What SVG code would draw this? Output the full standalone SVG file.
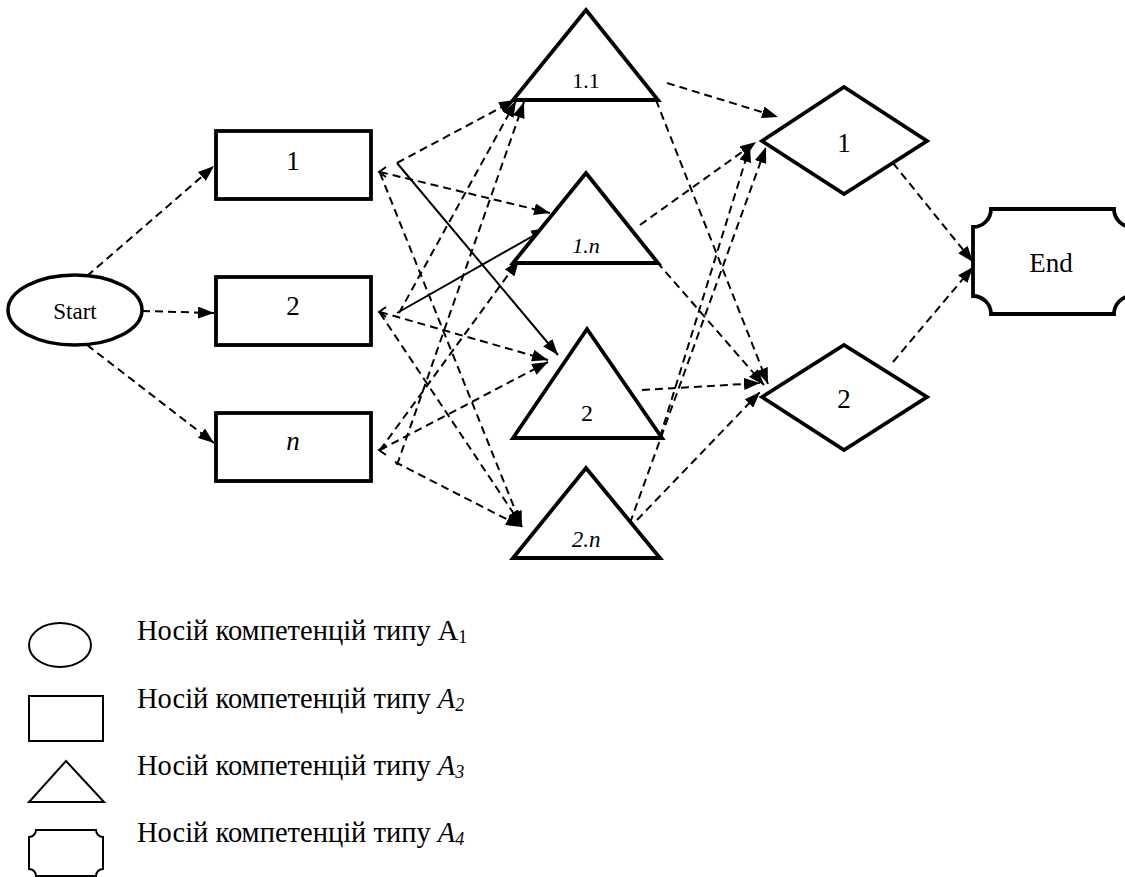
<svg xmlns="http://www.w3.org/2000/svg" width="1125" height="877" viewBox="0 0 1125 877">
<style>
.node{fill:#fff;stroke:#000;stroke-width:3.8;stroke-linejoin:miter}
.lg{fill:#fff;stroke:#000;stroke-width:2}
.t{fill:#000;text-anchor:middle}
.lt{fill:#000;font-size:28.5px}
.d{fill:none;stroke:#000;stroke-width:2;stroke-dasharray:8 5;marker-end:url(#ah)}
.s{fill:none;stroke:#000;stroke-width:2;marker-end:url(#ah)}
.ch{fill:none;stroke:#000;stroke-width:2}
</style>
<defs>
<marker id="ah" markerUnits="userSpaceOnUse" markerWidth="16" markerHeight="12" refX="16" refY="6" orient="auto">
<path d="M0,0 L16,6 L0,12 Z" fill="#000"/>
</marker>
</defs>
<rect width="1125" height="877" fill="#fff"/>

<g id="connectors">
<line class="d" x1="87" y1="276" x2="214" y2="166"/>
<line class="d" x1="142" y1="311" x2="214" y2="313"/>
<line class="d" x1="87" y1="345" x2="214" y2="443"/>

<line class="d" x1="397" y1="163" x2="515" y2="100"/>
<line class="d" x1="380" y1="172" x2="550" y2="213"/>
<line class="s" x1="397" y1="163" x2="558" y2="355"/>
<line class="d" x1="380" y1="173" x2="522" y2="527"/>

<line class="d" x1="399" y1="313" x2="516" y2="101"/>
<line class="s" x1="397" y1="313" x2="547" y2="228"/>
<line class="d" x1="380" y1="312" x2="548" y2="360"/>
<line class="d" x1="380" y1="313" x2="522" y2="526"/>

<line class="d" x1="397" y1="465" x2="524" y2="102"/>
<line class="d" x1="380" y1="450" x2="519" y2="260"/>
<line class="d" x1="380" y1="450" x2="548" y2="362"/>
<line class="d" x1="395" y1="462" x2="522" y2="527"/>

<polyline class="ch" points="386,167 379,172 386,177"/>
<polyline class="ch" points="386,307 379,312 386,317"/>
<polyline class="ch" points="386,445 379,450 386,455"/>

<line class="d" x1="667" y1="83" x2="778" y2="117"/>
<line class="d" x1="656" y1="100" x2="768" y2="384"/>
<line class="d" x1="640" y1="225" x2="756" y2="142"/>
<line class="d" x1="657" y1="262" x2="764" y2="385"/>
<line class="d" x1="660" y1="437" x2="750" y2="146"/>
<line class="d" x1="630" y1="523" x2="766" y2="147"/>
<line class="d" x1="642" y1="390" x2="760" y2="383"/>
<line class="d" x1="637" y1="520" x2="760" y2="392"/>

<line class="d" x1="893" y1="163" x2="973" y2="262"/>
<line class="d" x1="893" y1="362" x2="973" y2="267"/>
</g>

<g font-family="Liberation Serif, Times New Roman, DejaVu Serif, serif">
<g id="start">
<ellipse class="node" cx="75" cy="310" rx="67" ry="35" style="stroke-width:3.5"/>
<text class="t" x="75" y="319" font-size="23">Start</text>
</g>
<g id="rect1">
<rect class="node" x="216" y="131" width="155" height="68"/>
<text class="t" x="293" y="170" font-size="27">1</text>
</g>
<g id="rect2">
<rect class="node" x="216" y="277" width="155" height="68"/>
<text class="t" x="293" y="315" font-size="27">2</text>
</g>
<g id="rectn">
<rect class="node" x="216" y="413" width="155" height="68"/>
<text class="t" x="293" y="450" font-size="27" font-style="italic">n</text>
</g>

<g id="tri11">
<polygon class="node" points="586,10 658,100 513,100"/>
<text class="t" x="586" y="88" font-size="22">1.1</text>
</g>
<g id="tri1n">
<polygon class="node" points="586,173 658,263 513,263"/>
<text class="t" x="586" y="253" font-size="22" font-style="italic">1.n</text>
</g>
<g id="tri2">
<polygon class="node" points="587,329 662,438 513,438"/>
<text class="t" x="587" y="421" font-size="24">2</text>
</g>
<g id="tri2n">
<polygon class="node" points="586,468 660,558 513,558"/>
<text class="t" x="586" y="547" font-size="23" font-style="italic">2.n</text>
</g>

<g id="dia1">
<polygon class="node" points="762,141 844,87 927,141 844,194"/>
<text class="t" x="844" y="152" font-size="27">1</text>
</g>
<g id="dia2">
<polygon class="node" points="762,397 844,345 927,397 844,450"/>
<text class="t" x="844" y="408" font-size="27">2</text>
</g>

<g id="end">
<path class="node" d="M991,209 H1114 A18,18 0 0 0 1132,227 V296 A18,18 0 0 0 1114,314 H991 A18,18 0 0 0 973,296 V227 A18,18 0 0 0 991,209 Z"/>
<text class="t" x="1051" y="272" font-size="27">End</text>
</g>

<g id="legend">
<ellipse class="lg" cx="60" cy="645" rx="31" ry="22"/>
<rect class="lg" x="29" y="696" width="74" height="45"/>
<polygon class="lg" points="66,761 104,802 29,802"/>
<path class="lg" d="M36,830 H96 A7,7 0 0 0 103,837 V869 A7,7 0 0 0 96,876 H36 A7,7 0 0 0 29,869 V837 A7,7 0 0 0 36,830 Z"/>
<text class="lt" x="137" y="640">Носій компетенцій типу A<tspan font-size="18" dy="3">1</tspan></text>
<text class="lt" x="137" y="708">Носій компетенцій типу <tspan font-style="italic">A</tspan><tspan font-style="italic" font-size="18" dy="3">2</tspan></text>
<text class="lt" x="137" y="775">Носій компетенцій типу <tspan font-style="italic">A</tspan><tspan font-style="italic" font-size="18" dy="3">3</tspan></text>
<text class="lt" x="137" y="842">Носій компетенцій типу <tspan font-style="italic">A</tspan><tspan font-style="italic" font-size="18" dy="3">4</tspan></text>
</g>
</g>
</svg>
